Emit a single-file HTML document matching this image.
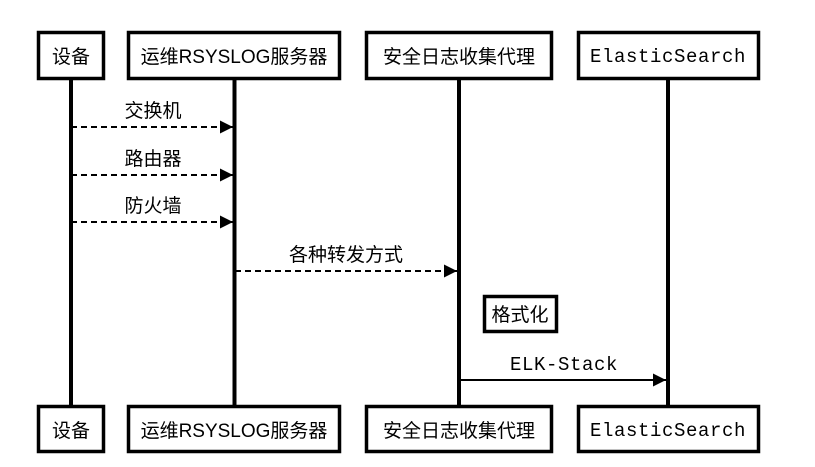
<!DOCTYPE html>
<html><head><meta charset="utf-8"><style>
html,body{margin:0;padding:0;background:#fff;}
svg text{font-family:"Liberation Sans","Noto Sans CJK SC",sans-serif;font-size:19px;fill:#000;}
svg text.m{font-family:"Liberation Mono","Noto Sans CJK SC",monospace;font-size:19px;letter-spacing:0.6px;}
</style></head><body>
<svg width="815" height="462" viewBox="0 0 815 462" xmlns="http://www.w3.org/2000/svg">
<defs><marker id="a" markerWidth="14" markerHeight="14" refX="13" refY="6.5" orient="auto" markerUnits="userSpaceOnUse"><path d="M0,0 L13,6.5 L0,13 z" fill="#000"/></marker></defs>
<g stroke="#000" stroke-width="4">
<line x1="71" y1="80" x2="71" y2="405"/>
<line x1="234.5" y1="80" x2="234.5" y2="405"/>
<line x1="459" y1="80" x2="459" y2="405"/>
<line x1="668" y1="80" x2="668" y2="405"/>
</g>
<g stroke="#000" stroke-width="2" fill="none">
<line x1="71" y1="127" x2="233" y2="127" stroke-dasharray="6,4" marker-end="url(#a)"/>
<line x1="71" y1="175" x2="233" y2="175" stroke-dasharray="6,4" marker-end="url(#a)"/>
<line x1="71" y1="222" x2="233" y2="222" stroke-dasharray="6,4" marker-end="url(#a)"/>
<line x1="235" y1="271" x2="457" y2="271" stroke-dasharray="6,4" marker-end="url(#a)"/>
<line x1="459" y1="380" x2="666" y2="380" marker-end="url(#a)"/>
</g>
<g fill="#fff" stroke="#000" stroke-width="3.5">
<rect x="38.5" y="32.5" width="65" height="46"/>
<rect x="128.5" y="32.5" width="211" height="46"/>
<rect x="366.5" y="32.5" width="185" height="46"/>
<rect x="578.5" y="32.5" width="180" height="46"/>
<rect x="38.5" y="406.5" width="65" height="45"/>
<rect x="128.5" y="406.5" width="211" height="45"/>
<rect x="366.5" y="406.5" width="185" height="45"/>
<rect x="578.5" y="406.5" width="180" height="45"/>
<rect x="484.5" y="296.5" width="72" height="35"/>
</g>
<g text-anchor="middle">
<text x="71" y="63">设备</text>
<text x="234" y="63">运维RSYSLOG服务器</text>
<text x="459" y="63">安全日志收集代理</text>
<text class="m" x="668" y="62">ElasticSearch</text>
<text x="71" y="437">设备</text>
<text x="234" y="437">运维RSYSLOG服务器</text>
<text x="459" y="437">安全日志收集代理</text>
<text class="m" x="668" y="436">ElasticSearch</text>
<text x="153" y="117">交换机</text>
<text x="153" y="165">路由器</text>
<text x="153" y="212">防火墙</text>
<text x="346" y="261">各种转发方式</text>
<text x="520" y="321">格式化</text>
<text class="m" x="564" y="370">ELK-Stack</text>
</g>
</svg>
</body></html>
